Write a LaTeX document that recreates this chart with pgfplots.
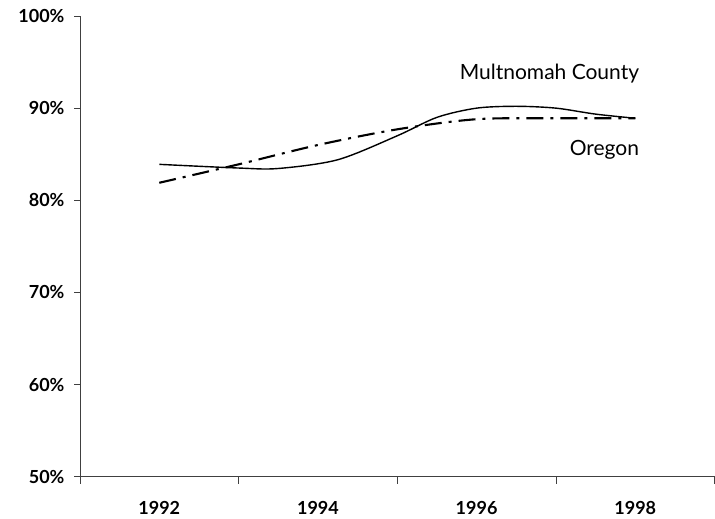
\documentclass[border=0pt]{standalone}
\usepackage{pgfplots}
\pgfplotsset{compat=1.18}
\usepackage{fontspec}
\setmainfont{Lato}
\begin{document}
\begin{tikzpicture}
\begin{axis}[
  scale only axis, width=635pt, height=461pt,
  xmin=1991, xmax=1999, ymin=50, ymax=100,
  axis x line*=bottom, axis y line*=left,
  axis line style={-, black!75, line width=0.8pt},
  tick align=outside,
  xtick={1992,1994,1996,1998},
  xticklabels={1992,1994,1996,1998},
  major x tick style={draw=none},
  minor xtick={1991,1993,1995,1997,1999},
  minor x tick style={black!75, line width=0.8pt},
  ytick={50,60,70,80,90,100},
  yticklabels={50\%,60\%,70\%,80\%,90\%,100\%},
  y tick style={black!75, line width=0.8pt},
  major tick length=6pt, minor tick length=7pt,
  tick label style={font=\fontsize{18}{21}\selectfont\bfseries},
  xticklabel style={yshift=-15pt},
  yticklabel style={xshift=-6pt},
  /pgf/number format/assume math mode=true,
  clip=false,
]
\addplot[smooth, line width=1.4pt] coordinates {
(1992,83.9) (1993,83.5) (1993.5,83.45) (1994.25,84.4) (1995,87.0) (1995.5,89.0) (1996,90.0) (1996.5,90.2) (1997,90.0) (1997.5,89.35) (1998,88.9)};
\addplot[smooth, line width=2.1pt, dash pattern=on 17pt off 7pt on 3pt off 7pt] coordinates {
(1992,81.9) (1993,83.9) (1994,86.0) (1995,87.7) (1996,88.8) (1997,88.9) (1998,88.9)};
\node[anchor=base east, inner sep=0pt, font=\fontsize{21}{24}\selectfont] at (axis cs:1998.05,93.15) {Multnomah County};
\node[anchor=base east, inner sep=0pt, font=\fontsize{21}{24}\selectfont] at (axis cs:1998.05,84.9) {Oregon};
\end{axis}
\path ([xshift=-80pt,yshift=-42pt]current axis.south west) rectangle ([yshift=16pt]current axis.north east);
\end{tikzpicture}
\end{document}
